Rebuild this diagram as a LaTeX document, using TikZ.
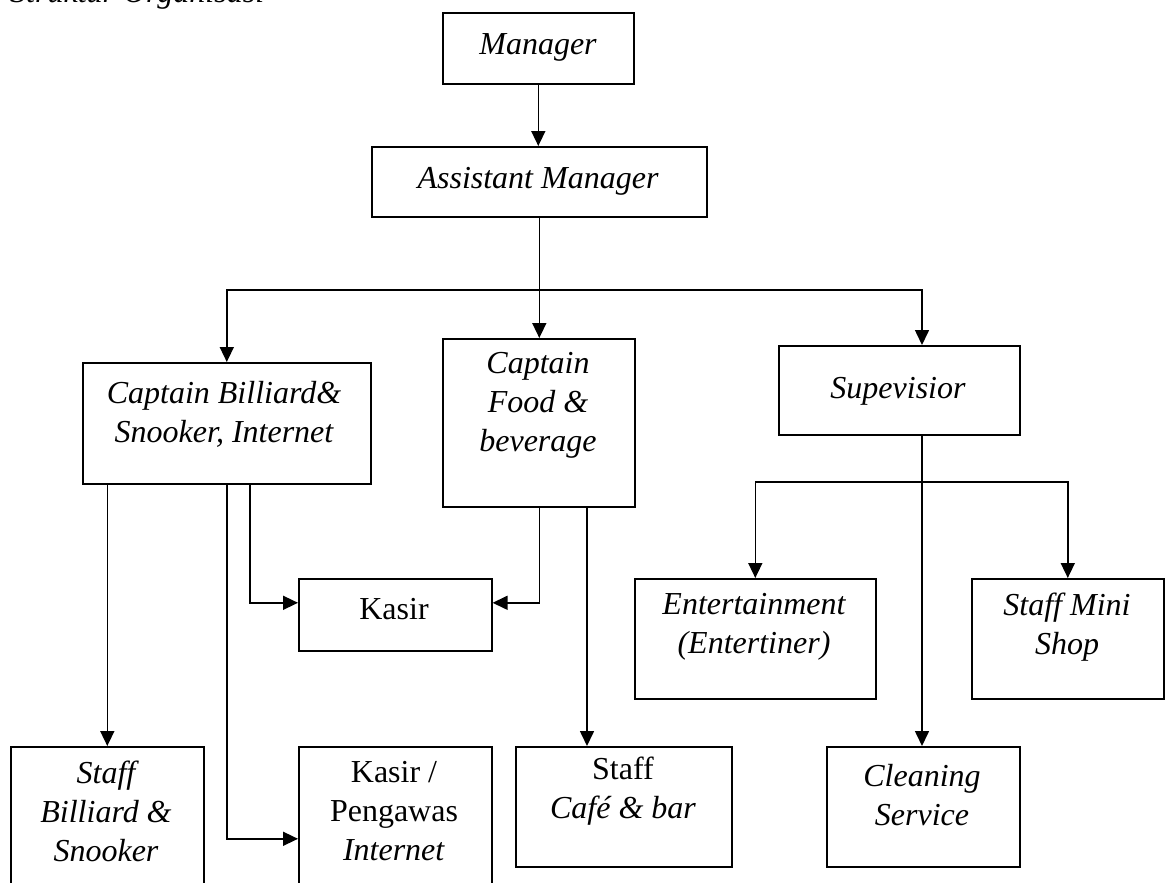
\documentclass[tikz,border=0pt]{standalone}
\usepackage{fontspec}
\setmainfont{Liberation Serif}
\usetikzlibrary{arrows.meta}
\begin{document}
\begin{tikzpicture}[x=1pt,y=-1pt,
 box/.style={draw,line width=1.6pt,anchor=north west,inner sep=0pt},
 lbl/.style={align=center,font=\fontsize{32}{39}\selectfont\itshape,inner sep=0pt},
 arr/.style={line width=1.6pt,-{Triangle[width=14pt,length=15pt]}},
 ln/.style={line width=1.6pt}]
\useasboundingbox (0,0) rectangle (1165,883);
% clipped heading (only its lower edge shows, as in the reference)
\node[font=\fontsize{32}{39}\selectfont\itshape,inner sep=0pt,anchor=base west] (title) at (10,3) {Struktur Organisasi};
% boxes
\node[box,minimum width=191pt,minimum height=71pt] (man) at (442,12) {};
\node[box,minimum width=335pt,minimum height=70pt] (asst) at (371,146) {};
\node[box,minimum width=288pt,minimum height=121pt] (cb) at (82,362) {};
\node[box,minimum width=192pt,minimum height=168pt] (cf) at (442,338) {};
\node[box,minimum width=241pt,minimum height=89pt] (sup) at (778,345) {};
\node[box,minimum width=241pt,minimum height=120pt] (ent) at (634,578) {};
\node[box,minimum width=192pt,minimum height=120pt] (smini) at (971,578) {};
\node[box,minimum width=193pt,minimum height=72pt] (kasir) at (298,578) {};
\node[box,minimum width=193pt,minimum height=184pt] (sbil) at (10,746) {};
\node[box,minimum width=193pt,minimum height=184pt] (kp) at (298,746) {};
\node[box,minimum width=216pt,minimum height=120pt] (scafe) at (515,746) {};
\node[box,minimum width=193pt,minimum height=120pt] (clean) at (826,746) {};
% labels
\node[lbl] (tman) at (538,47) {Manager};
\node[lbl] (tasst) at (538,181) {Assistant Manager};
\node[lbl] (tcb) at (224,414) {Captain Billiard\&\\ Snooker, Internet};
\node[lbl] (tcf) at (538,405) {Captain\\Food \&\\beverage};
\node[lbl] (tsup) at (898,391) {Supevisior};
\node[lbl] (tent) at (754,627) {Entertainment\\(Entertiner)};
\node[lbl] (tsmini) at (1067,627) {Staff Mini\\Shop};
\node[lbl,font=\fontsize{32}{39}\selectfont] (tkasir) at (394,609) {Kasir};
\node[lbl] (tsbil) at (106,811) {Staff\\Billiard \&\\Snooker};
\node[lbl,font=\fontsize{32}{39}\selectfont] (tkp) at (394,811) {Kasir /\\Pengawas\\\textit{Internet}};
\node[lbl,font=\fontsize{32}{39}\selectfont] (tscafe) at (623,791) {Staff\\\textit{Caf\'e \& bar}};
\node[lbl] (tclean) at (922,795) {Cleaning\\Service};
% helper coordinates
\coordinate (j1) at (538,290);
\coordinate (j2) at (922,482);
\coordinate (supline) at (922,0);
\coordinate (kl) at (250,0);
\coordinate (cfx) at (587,0);
% connectors
\draw[arr] (man.south) -- (man.south |- asst.north);
\draw[arr] (asst.south) -- (asst.south |- cf.north);
\draw[arr] (j1) -| (cb.north);
\draw[arr] (j1) -| (sup.north -| supline);
\draw[arr] (cb.south -| sbil.north) -- (sbil.north);
\draw[arr] (cb.south) |- (kp.west);
\draw[arr] (cb.south -| kl) |- ([yshift=12pt]kasir.west);
\draw[arr] (cf.south -| kasir.east) ++(47,0) |- ([yshift=12pt]kasir.east);
\draw[arr] (cf.south -| cfx) -- (scafe.north -| cfx);
\draw[arr] (sup.south -| supline) -- (clean.north -| supline);
\draw[arr] (j2) -| (ent.north);
\draw[arr] (j2) -| (smini.north);
\end{tikzpicture}
\end{document}
